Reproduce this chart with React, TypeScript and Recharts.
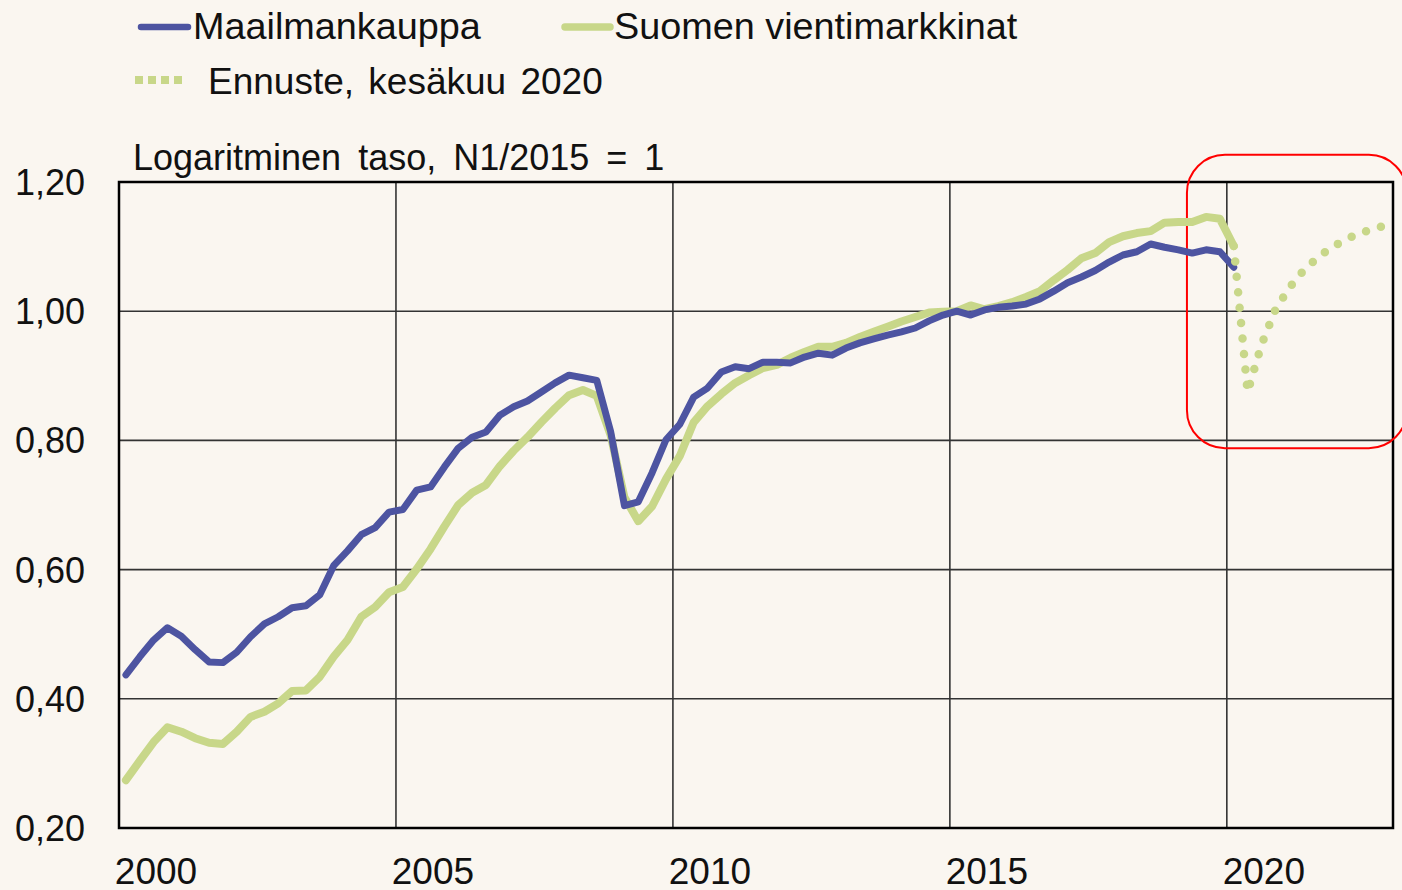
import React from 'react';
import { LineChart, Line, XAxis, YAxis, CartesianGrid, ReferenceArea } from 'recharts';

document.body.style.margin = '0';
document.body.style.background = '#FAF6F0';

const startYear = 2000;
const quarterCount = 92;

const worldTrade = [
  0.437, 0.465, 0.491, 0.510, 0.497, 0.476, 0.457, 0.456, 0.472, 0.496,
  0.516, 0.527, 0.541, 0.544, 0.561, 0.606, 0.629, 0.654, 0.665, 0.689,
  0.693, 0.723, 0.728, 0.759, 0.788, 0.805, 0.813, 0.839, 0.852, 0.861,
  0.875, 0.889, 0.901, 0.897, 0.893, 0.814, 0.699, 0.705, 0.750, 0.801,
  0.825, 0.867, 0.881, 0.906, 0.914, 0.911, 0.921, 0.921, 0.920, 0.929,
  0.935, 0.932, 0.943, 0.951, 0.957, 0.963, 0.968, 0.974, 0.985, 0.994,
  1.000, 0.994, 1.002, 1.006, 1.008, 1.011, 1.019, 1.031, 1.044, 1.053,
  1.063, 1.076, 1.087, 1.092, 1.104, 1.099, 1.095, 1.090, 1.095, 1.092,
  1.068,
];

const exportMarkets = [
  0.274, 0.304, 0.333, 0.356, 0.349, 0.339, 0.332, 0.330, 0.349, 0.372,
  0.380, 0.393, 0.412, 0.413, 0.434, 0.465, 0.491, 0.527, 0.542, 0.565,
  0.573, 0.601, 0.632, 0.667, 0.700, 0.719, 0.731, 0.760, 0.784, 0.805,
  0.828, 0.850, 0.870, 0.878, 0.869, 0.808, 0.712, 0.675, 0.698, 0.740,
  0.776, 0.828, 0.853, 0.872, 0.889, 0.901, 0.912, 0.917, 0.928, 0.937,
  0.945, 0.945, 0.951, 0.960, 0.968, 0.976, 0.984, 0.991, 0.998, 0.999,
  1.000, 1.009, 1.003, 1.008, 1.014, 1.022, 1.031, 1.048, 1.064, 1.082,
  1.090, 1.107, 1.116, 1.121, 1.124, 1.137, 1.138, 1.138, 1.146, 1.143,
  1.101,
];

// forecast starts at 2020Q1 (quarter index 80)
const forecastStart = 80;
const forecast = [
  1.101, 0.875, 0.948, 1.002, 1.036, 1.062, 1.082, 1.098, 1.110, 1.120,
  1.127, 1.133,
];

const xTicks = [2000, 2005, 2010, 2015, 2020];
const yTicks = [0.2, 0.4, 0.6, 0.8, 1.0, 1.2];

const seriesNames = {
  world: 'Maailmankauppa',
  markets: 'Suomen vientimarkkinat',
  forecast: 'Ennuste, kesäkuu 2020',
};
const axisTitle = 'Logaritminen taso, N1/2015 = 1';

const BLUE = '#4D54A1';
const GREEN = '#C8D789';
const BG = '#FAF6F0';
const FONT = '"Liberation Sans", Arial, sans-serif';

const data = Array.from({ length: quarterCount }, (_, i) => {
  const year = startYear + Math.floor(i / 4);
  const q = (i % 4) + 1;
  const fi = i - forecastStart;
  return {
    label: `${year}Q${q}`,
    t: year + (q - 0.5) / 4,
    world: i < worldTrade.length ? worldTrade[i] : null,
    markets: i < exportMarkets.length ? exportMarkets[i] : null,
    forecast: fi >= 0 && fi < forecast.length ? forecast[fi] : null,
  };
});

const XTick = (props: any) => {
  const { x, y, payload } = props;
  return (
    <text x={x + 37} y={y + 56} textAnchor="middle" fontSize={37} fontFamily={FONT} fill="#111">
      {payload.value}
    </text>
  );
};

const YTick = (props: any) => {
  const { x, y, payload } = props;
  return (
    <text x={x - 34} y={y + 13} textAnchor="end" fontSize={36} fontFamily={FONT} fill="#111">
      {Number(payload.value).toFixed(2).replace('.', ',')}
    </text>
  );
};

const RoundedFrame = (props: any) => {
  const { x, y, width, height } = props;
  return (
    <rect x={x} y={y} width={width} height={height} rx={38} ry={38} fill="none" stroke="#FF0000" strokeWidth={2} />
  );
};

export default function App() {
  return (
    <div style={{ position: 'relative', width: 1402, height: 890, background: BG, overflow: 'hidden' }}>
      <svg
        width={1402}
        height={182}
        style={{ position: 'absolute', left: 0, top: 0 }}
        fontFamily={FONT}
      >
        <line x1={141} x2={188} y1={27} y2={27} stroke={BLUE} strokeWidth={6.5} strokeLinecap="round" />
        <text x={193} y={39} fontSize={37.8} fill="#111">{seriesNames.world}</text>
        <line x1={565} x2={610} y1={27} y2={27} stroke={GREEN} strokeWidth={7.5} strokeLinecap="round" />
        <text x={614} y={39} fontSize={37.8} fill="#111">{seriesNames.markets}</text>
        <line x1={135} x2={182} y1={80} y2={80} stroke={GREEN} strokeWidth={8} strokeDasharray="8 5" />
        <text x={208} y={94} fontSize={37} fill="#111" style={{ wordSpacing: 4 }}>{seriesNames.forecast}</text>
        <text x={133} y={170} fontSize={36} fill="#111" style={{ wordSpacing: 7 }}>{axisTitle}</text>
      </svg>
      <div style={{ position: 'absolute', left: 0, top: 0 }}>
        <LineChart
          width={1402}
          height={890}
          data={data}
          margin={{ top: 182, right: 9, bottom: 0, left: 0 }}
        >
          <CartesianGrid stroke="#333" strokeWidth={1.6} />
          <XAxis
            dataKey="t"
            type="number"
            domain={[2000, 2023]}
            ticks={xTicks}
            height={62}
            tick={<XTick />}
            tickLine={false}
            tickSize={0}
            tickMargin={0}
            axisLine={false}
            interval={0}
            allowDataOverflow
          />
          <YAxis
            type="number"
            domain={[0.2, 1.2]}
            ticks={yTicks}
            width={119}
            tick={<YTick />}
            tickLine={false}
            tickSize={0}
            tickMargin={0}
            axisLine={false}
            interval={0}
            allowDataOverflow
          />
          <Line
            dataKey="markets"
            stroke={GREEN}
            strokeWidth={8}
            dot={false}
            strokeLinejoin="round"
            strokeLinecap="round"
            isAnimationActive={false}
            connectNulls={false}
          />
          <Line
            dataKey="world"
            stroke={BLUE}
            strokeWidth={7}
            dot={false}
            strokeLinejoin="round"
            strokeLinecap="round"
            isAnimationActive={false}
            connectNulls={false}
          />
          <Line
            dataKey="forecast"
            stroke={GREEN}
            strokeWidth={8.5}
            strokeDasharray="0 15.5"
            strokeLinecap="round"
            dot={false}
            isAnimationActive={false}
            connectNulls={false}
          />
          <ReferenceArea
            x1={2000}
            x2={2023}
            y1={0.2}
            y2={1.2}
            fill="none"
            fillOpacity={0}
            stroke="#000"
            strokeWidth={2.5}
            ifOverflow="visible"
          />
          <ReferenceArea
            x1={2019.28}
            x2={2023.25}
            y1={0.788}
            y2={1.242}
            ifOverflow="visible"
            shape={<RoundedFrame />}
          />
        </LineChart>
      </div>
    </div>
  );
}
